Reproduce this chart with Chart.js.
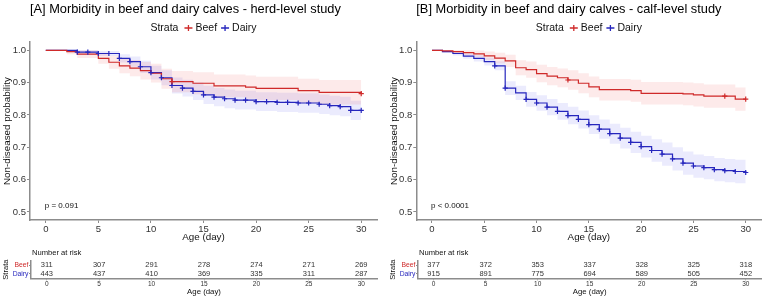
<!DOCTYPE html>
<html><head><meta charset="utf-8">
<script src="https://cdn.jsdelivr.net/npm/chart.js@4.4.1/dist/chart.umd.min.js"></script>
<style>
html,body{margin:0;padding:0;background:#fff;overflow:hidden;width:767px;height:301px}
canvas{position:absolute}
</style></head><body>
<canvas id="mainA" style="left:0;top:0" width="384" height="245"></canvas>
<canvas id="mainB" style="left:384px;top:0" width="384" height="245"></canvas>
<canvas id="riskA" style="left:0;top:245px" width="384" height="56"></canvas>
<canvas id="riskB" style="left:384px;top:245px" width="384" height="56"></canvas>
<script>
// ---------- shared ----------
const xTicks = [0, 5, 10, 15, 20, 25, 30];
const yTicks = [0.5, 0.6, 0.7, 0.8, 0.9, 1.0];
const riskTimes = [0, 5, 10, 15, 20, 25, 30];
const strata = ['Beef', 'Dairy'];

// ---------- Panel A : herd-level ----------
const aBeefDays  = [0, 2, 3, 5, 6, 7, 8, 9, 10, 11, 12, 14, 16, 19, 20, 24, 26, 30];
const aBeefSurv  = [1.0, 0.996, 0.988, 0.975, 0.963, 0.952, 0.945, 0.937, 0.929, 0.912, 0.903, 0.898, 0.890, 0.886, 0.882, 0.875, 0.870, 0.866];
const aBeefLower = [1.0, 0.988, 0.976, 0.958, 0.943, 0.929, 0.920, 0.910, 0.900, 0.881, 0.870, 0.864, 0.855, 0.850, 0.846, 0.838, 0.832, 0.828];
const aBeefUpper = [1.0, 1.0, 1.0, 0.992, 0.983, 0.975, 0.970, 0.964, 0.958, 0.943, 0.936, 0.932, 0.925, 0.922, 0.918, 0.912, 0.908, 0.904];
const aBeefCensor = [12, 30];

const aDairyDays  = [0, 3, 5, 7, 8, 9, 10, 11, 12, 13, 14, 15, 16, 17, 18, 20, 22, 24, 26, 27, 28, 29, 30];
const aDairySurv  = [1.0, 0.994, 0.990, 0.975, 0.965, 0.949, 0.931, 0.915, 0.891, 0.883, 0.873, 0.862, 0.855, 0.850, 0.846, 0.841, 0.839, 0.837, 0.833, 0.829, 0.826, 0.814, 0.814];
const aDairyLower = [1.0, 0.988, 0.982, 0.962, 0.949, 0.930, 0.910, 0.892, 0.866, 0.857, 0.846, 0.834, 0.827, 0.821, 0.817, 0.812, 0.809, 0.807, 0.803, 0.799, 0.796, 0.784, 0.784];
const aDairyUpper = [1.0, 1.0, 0.998, 0.988, 0.981, 0.968, 0.952, 0.938, 0.916, 0.909, 0.900, 0.890, 0.883, 0.879, 0.875, 0.870, 0.869, 0.867, 0.863, 0.859, 0.856, 0.844, 0.844];
const aDairyCensor = [3, 4, 5, 6, 7, 8, 9, 10, 11, 12, 13, 14, 15, 16, 17, 18, 19, 20, 21, 22, 23, 24, 25, 26, 27, 28, 29, 30];

const aRiskBeef  = [311, 307, 291, 278, 274, 271, 269];
const aRiskDairy = [443, 437, 410, 369, 335, 311, 287];

// ---------- Panel B : calf-level ----------
const bBeefDays  = [0, 1, 2, 3, 4, 5, 6, 7, 8, 9, 10, 11, 12, 13, 14, 15, 16, 19, 20, 24, 25, 26, 29, 30];
const bBeefSurv  = [1.0, 0.998, 0.996, 0.993, 0.989, 0.983, 0.976, 0.967, 0.946, 0.940, 0.928, 0.920, 0.915, 0.908, 0.898, 0.887, 0.878, 0.875, 0.867, 0.865, 0.862, 0.858, 0.849, 0.849];
const bBeefLower = [1.0, 0.994, 0.990, 0.985, 0.979, 0.970, 0.960, 0.948, 0.923, 0.915, 0.901, 0.892, 0.886, 0.878, 0.867, 0.855, 0.845, 0.841, 0.832, 0.830, 0.826, 0.822, 0.813, 0.813];
const bBeefUpper = [1.0, 1.0, 1.0, 1.0, 0.999, 0.996, 0.992, 0.986, 0.969, 0.965, 0.955, 0.948, 0.944, 0.938, 0.929, 0.919, 0.911, 0.909, 0.902, 0.900, 0.898, 0.894, 0.885, 0.885];
const bBeefCensor = [13, 28, 30];

const bDairyDays  = [0, 1, 2, 3, 4, 5, 6, 7, 8, 9, 10, 11, 12, 13, 14, 15, 16, 17, 18, 19, 20, 21, 22, 23, 24, 25, 26, 27, 28, 29, 30];
const bDairySurv  = [1.0, 0.996, 0.990, 0.982, 0.975, 0.965, 0.952, 0.883, 0.868, 0.848, 0.837, 0.824, 0.811, 0.798, 0.786, 0.770, 0.756, 0.742, 0.728, 0.715, 0.702, 0.690, 0.679, 0.664, 0.651, 0.642, 0.637, 0.631, 0.628, 0.625, 0.622];
const bDairyLower = [1.0, 0.992, 0.984, 0.974, 0.965, 0.953, 0.938, 0.862, 0.846, 0.825, 0.813, 0.799, 0.785, 0.771, 0.758, 0.741, 0.726, 0.711, 0.696, 0.682, 0.668, 0.655, 0.643, 0.628, 0.615, 0.606, 0.601, 0.595, 0.592, 0.589, 0.588];
const bDairyUpper = [1.0, 1.0, 0.996, 0.990, 0.985, 0.977, 0.966, 0.904, 0.890, 0.871, 0.861, 0.849, 0.837, 0.825, 0.814, 0.799, 0.786, 0.773, 0.760, 0.748, 0.736, 0.725, 0.715, 0.700, 0.687, 0.678, 0.673, 0.667, 0.664, 0.661, 0.656];
const bDairyCensor = [6, 7, 9, 10, 11, 12, 13, 14, 15, 16, 17, 18, 19, 20, 21, 22, 23, 24, 25, 26, 27, 28, 29, 30];

const bRiskBeef  = [377, 372, 353, 337, 328, 325, 318];
const bRiskDairy = [915, 891, 775, 694, 589, 505, 452];

// ---------- styling ----------
const FONT = "'Liberation Sans', Arial, Helvetica, sans-serif";
const RED = '#cf2a2a', BLUE = '#2626bd';
const RED_BAND = 'rgba(235,60,60,0.11)', BLUE_BAND = 'rgba(60,60,235,0.10)';
const AXIS = '#8c8c8c', TXT = '#333333';

function pts(days, vals) { return days.map((d, i) => ({x: d, y: vals[i]})); }
function stepAt(days, vals, t) { let v = vals[0]; for (let i = 0; i < days.length; i++) if (days[i] <= t) v = vals[i]; return v; }
function censorPts(days, vals, cens) { return cens.map(t => ({x: t, y: stepAt(days, vals, t)})); }

function drawKey(ctx, x, y, color) {
  ctx.save(); ctx.strokeStyle = color; ctx.lineWidth = 1.3;
  ctx.beginPath(); ctx.moveTo(x - 4, y); ctx.lineTo(x + 4, y);
  ctx.moveTo(x, y - 3); ctx.lineTo(x, y + 3); ctx.stroke(); ctx.restore();
}

function makeMain(id, c) {
  const deco = {
    id: 'deco' + id,
    afterDraw(chart) {
      const ctx = chart.ctx, ca = chart.chartArea;
      const xs = chart.scales.x;
      ctx.save();
      // title
      ctx.fillStyle = '#000'; ctx.font = '12.8px ' + FONT; ctx.textAlign = 'left'; ctx.textBaseline = 'middle';
      ctx.fillText(c.title, ca.left, 9.5);
      // legend
      ctx.font = '10.5px ' + FONT;
      const parts = ['Strata', strata[0], strata[1]];
      const w = parts.map(p => ctx.measureText(p).width);
      const total = w[0] + 6 + 8 + 3 + w[1] + 4 + 8 + 3 + w[2];
      let lx = (ca.left + ca.right) / 2 - total / 2; const ly = 28;
      ctx.fillStyle = '#111';
      ctx.fillText(parts[0], lx, ly); lx += w[0] + 6;
      drawKey(ctx, lx + 4, ly, RED); lx += 8 + 3;
      ctx.fillText(parts[1], lx, ly); lx += w[1] + 4;
      drawKey(ctx, lx + 4, ly, BLUE); lx += 8 + 3;
      ctx.fillText(parts[2], lx, ly);
      // axis titles
      ctx.fillStyle = '#111'; ctx.font = '9.8px ' + FONT; ctx.textAlign = 'center';
      ctx.fillText('Age (day)', (ca.left + ca.right) / 2, 237);
      ctx.save(); ctx.translate(ca.left - 22.5, (ca.top + ca.bottom) / 2); ctx.rotate(-Math.PI / 2);
      ctx.fillText('Non-diseased probability', 0, 0); ctx.restore();
      // p value
      ctx.font = '8px ' + FONT; ctx.textAlign = 'left'; ctx.fillStyle = '#111';
      ctx.fillText(c.pText, xs.getPixelForValue(0) - 1, 206);
      ctx.restore();
    }
  };
  const band = (data, color, fillTarget) => ({
    data, stepped: true, borderWidth: 0, pointRadius: 0, backgroundColor: color,
    fill: fillTarget, order: 3
  });
  const line = (data, color) => ({
    data, stepped: true, borderColor: color, borderWidth: 1.2, pointRadius: 0, fill: false, order: 1
  });
  const cens = (data, color) => ({
    data, showLine: false, pointStyle: 'cross', pointRadius: 2.6, pointBorderWidth: 1.2,
    pointBorderColor: color, pointBackgroundColor: color, order: 0
  });
  new Chart(document.getElementById(id), {
    type: 'line',
    data: { datasets: [
      band(pts(c.beefDays, c.beefUpper), RED_BAND, false),
      band(pts(c.beefDays, c.beefLower), RED_BAND, 0),
      band(pts(c.dairyDays, c.dairyUpper), BLUE_BAND, false),
      band(pts(c.dairyDays, c.dairyLower), BLUE_BAND, 2),
      line(pts(c.beefDays, c.beefSurv), RED),
      line(pts(c.dairyDays, c.dairySurv), BLUE),
      cens(censorPts(c.beefDays, c.beefSurv, c.beefCensor), RED),
      cens(censorPts(c.dairyDays, c.dairySurv, c.dairyCensor), BLUE)
    ]},
    options: {
      responsive: false, animation: false, devicePixelRatio: 1,
      layout: { padding: { top: 42.2, right: c.padRight, left: 0, bottom: 0 } },
      plugins: { legend: { display: false }, tooltip: { enabled: false }, filler: { drawTime: 'beforeDatasetsDraw' } },
      scales: {
        x: {
          type: 'linear', min: -1.5, max: 31.5,
          afterBuildTicks: s => { s.ticks = xTicks.map(v => ({value: v})); },
          afterFit: s => { s.height = 25; },
          ticks: { color: TXT, font: { size: 9.5, family: FONT }, padding: 1, maxRotation: 0, autoSkip: false },
          grid: { drawOnChartArea: false, tickLength: 3, color: AXIS, lineWidth: 1 },
          border: { color: AXIS, width: 1.5 }
        },
        y: {
          type: 'linear', min: 0.475, max: 1.025,
          afterBuildTicks: s => { s.ticks = yTicks.map(v => ({value: v})); },
          afterFit: s => { s.width = c.yWidth; },
          ticks: { color: TXT, font: { size: 9.5, family: FONT }, padding: 1, autoSkip: false, callback: v => Number(v).toFixed(1) },
          grid: { drawOnChartArea: false, tickLength: 3, color: AXIS, lineWidth: 1 },
          border: { color: AXIS, width: 1.5 }
        }
      }
    },
    plugins: [deco]
  });
}

function makeRisk(id, c) {
  const deco = {
    id: 'risk' + id,
    afterDatasetsDraw(chart) {
      const ctx = chart.ctx, ca = chart.chartArea;
      ctx.save();
      ctx.fillStyle = TXT; ctx.font = '7.5px ' + FONT; ctx.textAlign = 'center'; ctx.textBaseline = 'middle';
      [c.riskBeef, c.riskDairy].forEach((vals, di) => {
        chart.getDatasetMeta(di).data.forEach((el, i) => ctx.fillText(String(vals[i]), el.x, el.y));
      });
      ctx.fillStyle = '#111'; ctx.font = '7.6px ' + FONT; ctx.textAlign = 'left';
      ctx.fillText('Number at risk', ca.left + 1, 8);
      ctx.textAlign = 'center'; ctx.font = '7.8px ' + FONT;
      ctx.fillText('Age (day)', (ca.left + ca.right) / 2, 46.7);
      ctx.save(); ctx.translate(ca.left - 25, (ca.top + ca.bottom) / 2); ctx.rotate(-Math.PI / 2);
      ctx.font = '7.6px ' + FONT; ctx.fillText('Strata', 0, 0); ctx.restore();
      ctx.restore();
    }
  };
  new Chart(document.getElementById(id), {
    type: 'line',
    data: { datasets: [
      { data: riskTimes.map(t => ({x: t, y: strata[0]})), showLine: false, pointRadius: 0 },
      { data: riskTimes.map(t => ({x: t, y: strata[1]})), showLine: false, pointRadius: 0 }
    ]},
    options: {
      responsive: false, animation: false, devicePixelRatio: 1,
      layout: { padding: { top: 16, right: c.padRight, left: 0, bottom: 0 } },
      plugins: { legend: { display: false }, tooltip: { enabled: false } },
      scales: {
        x: {
          type: 'linear', min: -1.5, max: 31.5,
          afterBuildTicks: s => { s.ticks = xTicks.map(v => ({value: v})); },
          afterFit: s => { s.height = 22.7; },
          ticks: { color: TXT, font: { size: 6.5, family: FONT }, padding: 0.5, maxRotation: 0, autoSkip: false },
          grid: { drawOnChartArea: false, tickLength: 2, color: AXIS, lineWidth: 1 },
          border: { color: AXIS, width: 1.5 }
        },
        y: {
          type: 'category', labels: strata, offset: true,
          afterFit: s => { s.width = c.yWidth; },
          ticks: { color: [RED, BLUE], font: { size: 6.8, family: FONT }, padding: 0.5, autoSkip: false },
          grid: { drawOnChartArea: false, tickLength: 2, color: AXIS, lineWidth: 1, offset: false },
          border: { color: AXIS, width: 1.5 }
        }
      }
    },
    plugins: [deco]
  });
}

makeMain('mainA', {
  title: '[A] Morbidity in beef and dairy calves - herd-level study', pText: 'p = 0.091',
  yWidth: 30, padRight: 7,
  beefDays: aBeefDays, beefSurv: aBeefSurv, beefLower: aBeefLower, beefUpper: aBeefUpper, beefCensor: aBeefCensor,
  dairyDays: aDairyDays, dairySurv: aDairySurv, dairyLower: aDairyLower, dairyUpper: aDairyUpper, dairyCensor: aDairyCensor
});
makeMain('mainB', {
  title: '[B] Morbidity in beef and dairy calves - calf-level study', pText: 'p < 0.0001',
  yWidth: 32.3, padRight: 6.6,
  beefDays: bBeefDays, beefSurv: bBeefSurv, beefLower: bBeefLower, beefUpper: bBeefUpper, beefCensor: bBeefCensor,
  dairyDays: bDairyDays, dairySurv: bDairySurv, dairyLower: bDairyLower, dairyUpper: bDairyUpper, dairyCensor: bDairyCensor
});
makeRisk('riskA', { yWidth: 31, padRight: 7, riskBeef: aRiskBeef, riskDairy: aRiskDairy });
makeRisk('riskB', { yWidth: 34, padRight: 6.6, riskBeef: bRiskBeef, riskDairy: bRiskDairy });
</script>
</body></html>
